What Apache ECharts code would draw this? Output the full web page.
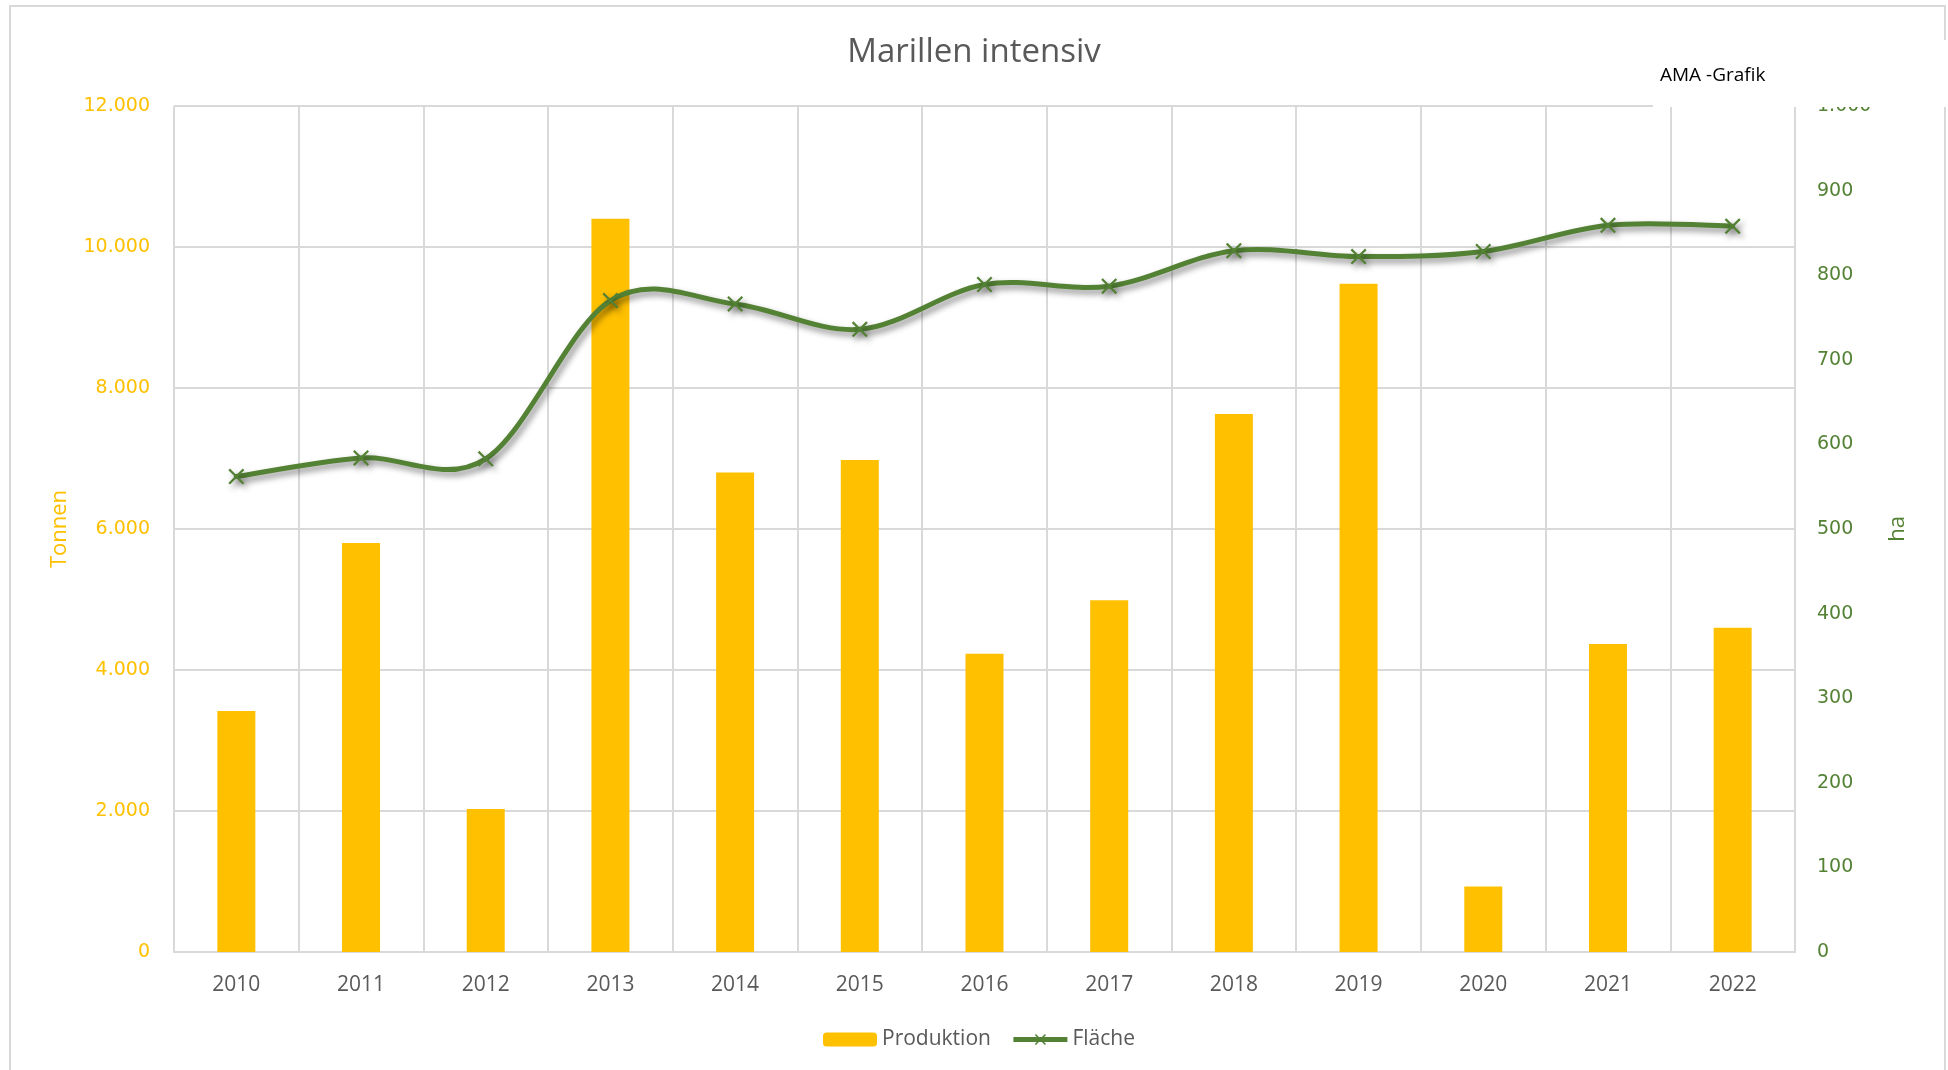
<!DOCTYPE html>
<html>
<head>
<meta charset="utf-8">
<script src="https://cdn.jsdelivr.net/npm/echarts@6/dist/echarts.min.js"></script>
<style>
  html, body { margin: 0; padding: 0; background: #fff; }
  #chart { width: 1948px; height: 1070px; }
</style>
</head>
<body>
<div id="chart"></div>
<script>
// Jahre auf der x-Achse
const years = ["2010", "2011", "2012", "2013", "2014", "2015", "2016", "2017", "2018", "2019", "2020", "2021", "2022"];
// Produktion in Tonnen (linke Achse)
const produktion = [3420, 5800, 2030, 10400, 6800, 6980, 4230, 4990, 7630, 9480, 930, 4370, 4600];
// Fläche in ha (rechte Achse)
const flaeche = [562, 584, 583, 770, 766, 736, 789, 787, 829, 822, 828, 859, 858];
// Achsenbereiche
const tonnenAxis = { min: 0, max: 12000, interval: 2000 };
const haAxis = { min: 0, max: 1000, interval: 100 };

const grey = "#595959";
const gridGrey = "#D9D9D9";
const yellow = "#FFC000";
const green = "#548235";
const shadow = {
  shadowColor: "rgba(0,0,0,0.45)",
  shadowBlur: 6,
  shadowOffsetX: 3,
  shadowOffsetY: 4,
};

// Tausenderpunkt wie im Original
function fmt(v) {
  return String(v).replace(/\B(?=(\d{3})+(?!\d))/g, ".");
}

const xMark = "path://M0,1L1,0L5,4L9,0L10,1L6,5L10,9L9,10L5,6L1,10L0,9L4,5Z";

// geglättete Linie wie in Excel (Catmull-Rom als Bezier)
function renderCurve(params, api) {
  if (params.dataIndex !== 0) return;
  const pts = flaeche.map((v, i) => api.coord([i, v]));
  const n = pts.length;
  let d = "M" + pts[0][0] + "," + pts[0][1];
  for (let i = 0; i < n - 1; i++) {
    const p0 = pts[Math.max(i - 1, 0)];
    const p1 = pts[i];
    const p2 = pts[i + 1];
    const p3 = pts[Math.min(i + 2, n - 1)];
    const c1x = p1[0] + (p2[0] - p0[0]) / 6;
    const c1y = p1[1] + (p2[1] - p0[1]) / 6;
    const c2x = p2[0] - (p3[0] - p1[0]) / 6;
    const c2y = p2[1] - (p3[1] - p1[1]) / 6;
    d += "C" + c1x + "," + c1y + "," + c2x + "," + c2y + "," + p2[0] + "," + p2[1];
  }
  return {
    type: "path",
    shape: { pathData: d },
    style: Object.assign({ fill: "none", stroke: green, lineWidth: 5, lineCap: "round", lineJoin: "round" }, shadow),
  };
}

const chart = echarts.init(document.getElementById("chart"));
chart.setOption({
  animation: false,
  backgroundColor: "#fff",
  title: {
    text: "Marillen intensiv",
    left: "center",
    top: 31,
    textStyle: { fontFamily: "Open Sans", fontSize: 33, fontWeight: "normal", color: grey },
  },
  legend: {
    left: 818,
    top: 1024,
    itemWidth: 54,
    itemHeight: 14,
    itemGap: 20,
    textStyle: { fontFamily: "Open Sans", fontSize: 21, color: grey },
    data: [
      { name: "Produktion" },
      { name: "Fläche", lineStyle: { color: green, width: 5, opacity: 1, shadowBlur: 0, shadowOffsetX: 0, shadowOffsetY: 0 } },
    ],
  },
  grid: { left: 174, right: 153, top: 106, bottom: 118 },
  xAxis: {
    type: "category",
    data: years,
    axisLine: { lineStyle: { color: gridGrey, width: 2 } },
    axisTick: { show: false },
    splitLine: { show: true, interval: 0, lineStyle: { color: gridGrey, width: 2 } },
    axisLabel: { fontFamily: "Open Sans", fontSize: 21, color: grey, margin: 23 },
  },
  yAxis: [
    {
      type: "value",
      min: tonnenAxis.min,
      max: tonnenAxis.max,
      interval: tonnenAxis.interval,
      name: "Tonnen",
      nameLocation: "middle",
      nameGap: 103,
      nameTextStyle: { fontFamily: "Open Sans", fontSize: 22, color: yellow },
      axisLine: { show: false },
      axisTick: { show: false },
      splitLine: { lineStyle: { color: gridGrey, width: 2 } },
      axisLabel: { fontFamily: "DejaVu Sans", fontSize: 19, color: yellow, margin: 24, formatter: fmt },
    },
    {
      type: "value",
      min: haAxis.min,
      max: haAxis.max,
      interval: haAxis.interval,
      name: "ha",
      nameLocation: "middle",
      nameGap: 92,
      nameTextStyle: { fontFamily: "Open Sans", fontSize: 22, color: green },
      axisLine: { show: false },
      axisTick: { show: false },
      splitLine: { show: false },
      axisLabel: { fontFamily: "DejaVu Sans", fontSize: 19, color: green, margin: 22, formatter: fmt },
    },
  ],
  series: [
    {
      name: "Produktion",
      type: "bar",
      yAxisIndex: 0,
      barWidth: 38,
      itemStyle: { color: yellow },
      data: produktion,
    },
    {
      name: "Fläche-Kurve",
      type: "custom",
      yAxisIndex: 1,
      renderItem: renderCurve,
      data: flaeche.map((v, i) => [i, v]),
      encode: { x: 0, y: 1 },
      z: 4,
      silent: true,
    },
    {
      name: "Fläche",
      type: "line",
      yAxisIndex: 1,
      symbol: xMark,
      symbolSize: 16,
      itemStyle: Object.assign({ color: green }, shadow),
      lineStyle: { color: green, width: 5, opacity: 0 },
      data: flaeche,
      z: 5,
    },
  ],
  graphic: [
    {
      type: "rect",
      z: -10,
      shape: { x: 10, y: 6, width: 1935, height: 1070 },
      style: { fill: "none", stroke: gridGrey, lineWidth: 2 },
    },
    {
      type: "rect",
      z: 100,
      shape: { x: 1653, y: 40, width: 295, height: 67 },
      style: { fill: "#fff" },
    },
    {
      type: "text",
      z: 101,
      left: 1660,
      top: 66,
      style: { text: "AMA -Grafik", fontFamily: "Open Sans", fontSize: 19, fill: "#000" },
    },
  ],
});
</script>
</body>
</html>
